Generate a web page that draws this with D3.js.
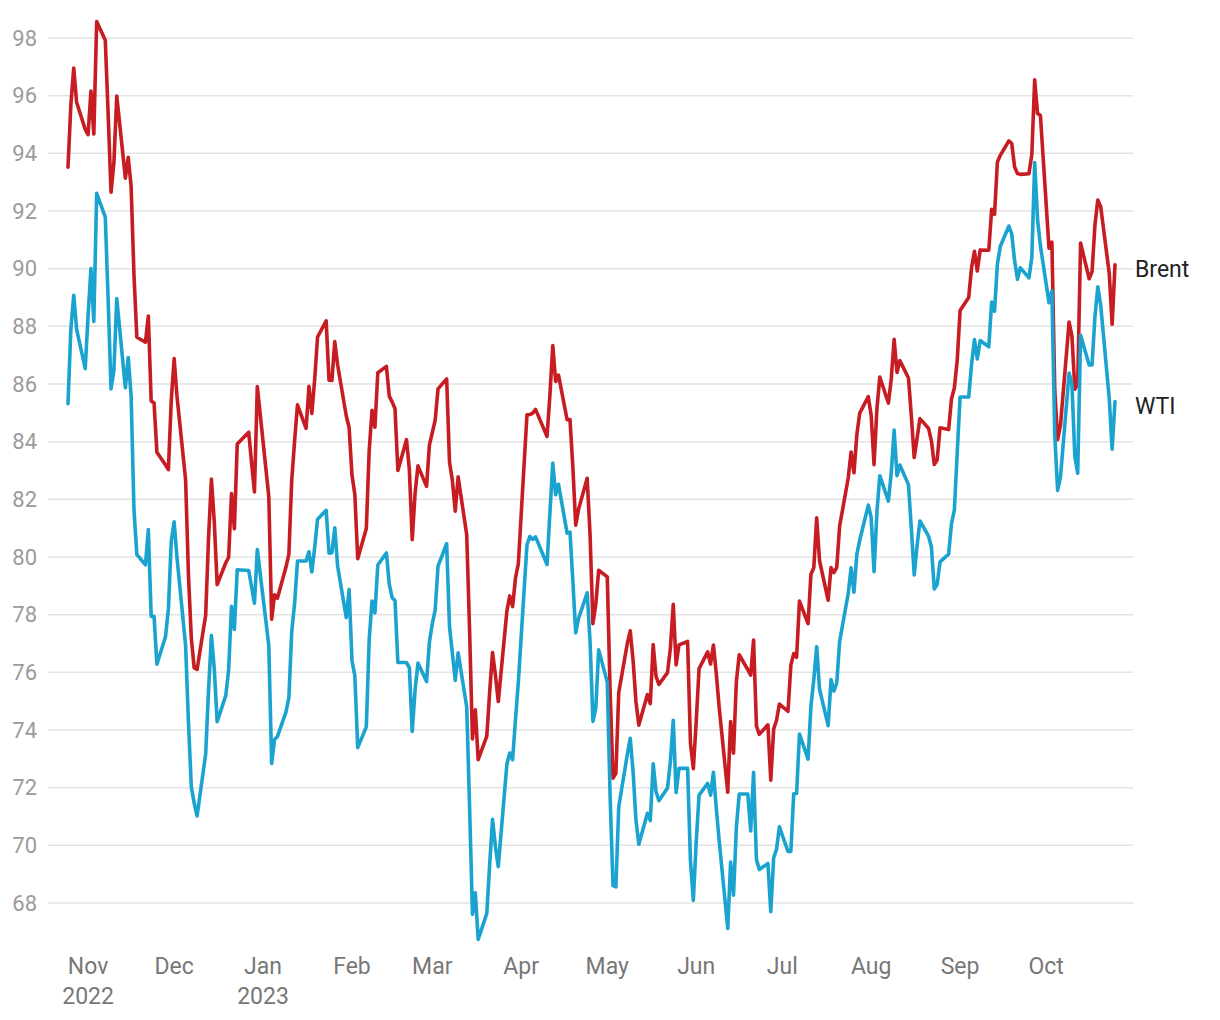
<!DOCTYPE html>
<html>
<head>
<meta charset="utf-8">
<script src="https://cdn.jsdelivr.net/npm/d3@7"></script>
<style>
  html, body { margin: 0; padding: 0; background: #ffffff; }
  svg { display: block; font-family: Roboto, "Noto Sans", sans-serif; }
</style>
</head>
<body>
<svg id="chart" width="1220" height="1020"></svg>
<script>
// ---- data ----
const dates = [
"2022-10-25","2022-10-26","2022-10-27","2022-10-28","2022-10-31",
"2022-11-01","2022-11-02","2022-11-03","2022-11-04","2022-11-07","2022-11-08","2022-11-09","2022-11-10","2022-11-11",
"2022-11-14","2022-11-15","2022-11-16","2022-11-17","2022-11-18","2022-11-21","2022-11-22","2022-11-23","2022-11-24","2022-11-25",
"2022-11-28","2022-11-29","2022-11-30","2022-12-01","2022-12-02","2022-12-05","2022-12-06","2022-12-07","2022-12-08","2022-12-09",
"2022-12-12","2022-12-13","2022-12-14","2022-12-15","2022-12-16","2022-12-19","2022-12-20","2022-12-21","2022-12-22","2022-12-23",
"2022-12-27","2022-12-28","2022-12-29","2022-12-30",
"2023-01-03","2023-01-04","2023-01-05","2023-01-06","2023-01-09","2023-01-10","2023-01-11","2023-01-12","2023-01-13",
"2023-01-16","2023-01-17","2023-01-18","2023-01-19","2023-01-20","2023-01-23","2023-01-24","2023-01-25","2023-01-26","2023-01-27",
"2023-01-30","2023-01-31","2023-02-01","2023-02-02","2023-02-03","2023-02-06","2023-02-07","2023-02-08","2023-02-09","2023-02-10",
"2023-02-13","2023-02-14","2023-02-15","2023-02-16","2023-02-17","2023-02-20","2023-02-21","2023-02-22","2023-02-23","2023-02-24",
"2023-02-27","2023-02-28","2023-03-01","2023-03-02","2023-03-03","2023-03-06","2023-03-07","2023-03-08","2023-03-09","2023-03-10",
"2023-03-13","2023-03-14","2023-03-15","2023-03-16","2023-03-17","2023-03-20","2023-03-21","2023-03-22","2023-03-23","2023-03-24",
"2023-03-27","2023-03-28","2023-03-29","2023-03-30","2023-03-31","2023-04-03","2023-04-04","2023-04-05","2023-04-06",
"2023-04-10","2023-04-11","2023-04-12","2023-04-13","2023-04-14","2023-04-17","2023-04-18","2023-04-19","2023-04-20","2023-04-21",
"2023-04-24","2023-04-25","2023-04-26","2023-04-27","2023-04-28","2023-05-01","2023-05-02","2023-05-03","2023-05-04","2023-05-05",
"2023-05-08","2023-05-09","2023-05-10","2023-05-11","2023-05-12","2023-05-15","2023-05-16","2023-05-17","2023-05-18","2023-05-19",
"2023-05-22","2023-05-23","2023-05-24","2023-05-25","2023-05-26","2023-05-29","2023-05-30","2023-05-31","2023-06-01","2023-06-02",
"2023-06-05","2023-06-06","2023-06-07","2023-06-08","2023-06-09","2023-06-12","2023-06-13","2023-06-14","2023-06-15","2023-06-16",
"2023-06-19","2023-06-20","2023-06-21","2023-06-22","2023-06-23","2023-06-26","2023-06-27","2023-06-28","2023-06-29","2023-06-30",
"2023-07-03","2023-07-04","2023-07-05","2023-07-06","2023-07-07","2023-07-10","2023-07-11","2023-07-12","2023-07-13","2023-07-14",
"2023-07-17","2023-07-18","2023-07-19","2023-07-20","2023-07-21","2023-07-24","2023-07-25","2023-07-26","2023-07-27","2023-07-28",
"2023-07-31","2023-08-01","2023-08-02","2023-08-03","2023-08-04","2023-08-07","2023-08-08","2023-08-09","2023-08-10","2023-08-11",
"2023-08-14","2023-08-15","2023-08-16","2023-08-17","2023-08-18","2023-08-21","2023-08-22","2023-08-23","2023-08-24","2023-08-25",
"2023-08-28","2023-08-29","2023-08-30","2023-08-31","2023-09-01","2023-09-04","2023-09-05","2023-09-06","2023-09-07","2023-09-08",
"2023-09-11","2023-09-12","2023-09-13","2023-09-14","2023-09-15","2023-09-18","2023-09-19","2023-09-20","2023-09-21","2023-09-22",
"2023-09-25","2023-09-26","2023-09-27","2023-09-28","2023-09-29","2023-10-02","2023-10-03","2023-10-04","2023-10-05","2023-10-06",
"2023-10-09","2023-10-10","2023-10-11","2023-10-12","2023-10-13","2023-10-16","2023-10-17","2023-10-18","2023-10-19","2023-10-20",
"2023-10-23","2023-10-24","2023-10-25"
];

const brent = [
93.52,95.69,96.96,95.77,94.83,
94.65,96.16,94.67,98.57,97.92,95.36,92.65,93.67,95.99,
93.14,93.86,92.86,89.78,87.62,87.45,88.36,85.41,85.34,83.63,
83.19,83.03,85.43,86.88,85.57,82.68,79.35,77.17,76.15,76.10,
77.99,80.68,82.70,81.21,79.04,79.80,79.99,82.20,80.98,83.92,
84.33,83.26,82.26,85.91,
82.10,77.84,78.69,78.57,79.65,80.10,82.67,84.03,85.28,
84.46,85.92,84.98,86.16,87.63,88.19,86.13,86.12,87.47,86.66,
84.90,84.49,82.84,82.17,79.94,80.99,83.69,85.09,84.50,86.39,
86.61,85.58,85.38,85.14,83.00,84.07,83.05,80.60,82.21,83.16,
82.45,83.89,84.31,84.75,85.83,86.18,83.29,82.66,81.59,82.78,
80.77,77.45,73.69,74.70,72.97,73.79,75.32,76.69,75.91,74.99,
78.12,78.65,78.28,79.27,79.77,84.93,84.94,84.99,85.12,
84.18,85.61,87.33,86.09,86.31,84.76,84.77,83.12,81.10,81.66,
82.73,80.77,77.69,78.37,79.54,79.31,75.32,72.33,72.50,75.30,
77.01,77.44,76.41,74.98,74.17,75.23,74.91,76.96,75.86,75.58,
75.99,76.84,78.36,76.26,76.95,77.07,73.54,72.66,74.28,76.13,
76.71,76.29,76.95,75.96,74.79,71.84,74.29,73.20,75.67,76.61,
76.09,75.90,77.12,74.14,73.85,74.18,72.26,74.03,74.34,74.90,
74.65,76.25,76.65,76.52,78.47,77.69,79.40,79.63,81.36,79.87,
78.50,79.63,79.46,79.64,81.07,82.74,83.64,82.92,84.24,84.99,
85.56,84.91,83.20,85.14,86.24,85.34,86.17,87.55,86.40,86.81,
86.21,84.89,83.45,84.12,84.80,84.46,84.03,83.21,83.36,84.48,
84.42,85.49,85.86,86.83,88.55,89.00,90.04,90.60,89.92,90.65,
90.64,92.06,91.88,93.70,93.93,94.43,94.34,93.53,93.30,93.27,
93.29,93.96,96.55,95.38,95.31,90.71,90.92,85.81,84.07,84.58,
88.15,87.65,85.82,86.00,90.89,89.65,89.90,91.50,92.38,92.16,
89.83,88.07,90.13
];

const wti = [
85.32,87.91,89.08,87.90,86.53,
88.37,90.00,88.17,92.61,91.79,88.91,85.83,86.47,88.96,
85.87,86.92,85.59,81.64,80.08,79.73,80.95,77.94,77.94,76.28,
77.24,78.20,80.55,81.22,79.98,76.93,74.25,72.01,71.46,71.02,
73.17,75.39,77.28,76.11,74.29,75.19,76.09,78.29,77.49,79.56,
79.53,78.96,78.40,80.26,
76.93,72.84,73.67,73.77,74.63,75.12,77.41,78.39,79.86,
79.86,80.18,79.48,80.33,81.31,81.62,80.13,80.15,81.01,79.68,
77.90,78.87,76.41,75.88,73.39,74.11,77.14,78.47,78.06,79.72,
80.14,79.06,78.59,78.49,76.34,76.34,76.16,73.95,75.39,76.32,
75.68,77.05,77.69,78.16,79.68,80.46,77.58,76.66,75.72,76.68,
74.80,71.33,67.61,68.35,66.74,67.64,69.33,70.90,69.96,69.26,
72.81,73.20,72.97,74.37,75.67,80.42,80.71,80.61,80.70,
79.74,81.53,83.26,82.16,82.52,80.83,80.86,79.16,77.37,77.87,
78.76,77.07,74.30,74.76,76.78,75.66,71.66,68.60,68.56,71.34,
73.16,73.71,72.56,70.87,70.04,71.11,70.86,72.83,71.86,71.55,
71.99,72.91,74.34,71.83,72.67,72.67,69.46,68.09,70.10,71.74,
72.15,71.74,72.53,71.29,70.17,67.12,69.42,68.27,70.62,71.78,
71.78,70.50,72.53,69.51,69.16,69.37,67.70,69.56,69.86,70.64,
69.79,69.79,71.79,71.80,73.86,72.99,74.83,75.75,76.89,75.42,
74.15,75.75,75.35,75.63,77.07,78.74,79.63,78.78,80.09,80.58,
81.80,81.37,79.49,81.55,82.82,81.94,82.92,84.40,82.82,83.19,
82.51,80.99,79.38,80.39,81.25,80.72,80.35,78.89,79.05,79.83,
80.10,81.16,81.63,83.63,85.55,85.55,86.69,87.54,86.87,87.51,
87.29,88.84,88.52,90.16,90.77,91.48,91.20,90.28,89.63,90.03,
89.68,90.39,93.68,91.71,90.79,88.82,89.23,84.22,82.31,82.79,
86.38,85.97,83.49,82.91,87.69,86.66,86.66,88.32,89.37,88.75,
85.49,83.74,85.39
];

const seriesNames = ["Brent", "WTI"];
const seriesColors = ["#c71c22", "#1ba3d0"];
const yTicks = [68,70,72,74,76,78,80,82,84,86,88,90,92,94,96,98];
const monthTicks = ["2022-11-01","2022-12-01","2023-01-01","2023-02-01","2023-03-01","2023-04-01",
                    "2023-05-01","2023-06-01","2023-07-01","2023-08-01","2023-09-01","2023-10-01"];
const monthLabels = [["Nov","2022"],["Dec"],["Jan","2023"],["Feb"],["Mar"],["Apr"],
                     ["May"],["Jun"],["Jul"],["Aug"],["Sep"],["Oct"]];

// ---- chart ----
const parse = d3.timeParse("%Y-%m-%d");
const dateObjs = dates.map(parse);
const svg = d3.select("#chart");

const x = d3.scaleTime()
  .domain([parse("2022-10-25"), parse("2023-10-25")])
  .range([68, 1115]);
const y = d3.scaleLinear().domain([68, 98]).range([903, 38]);

const gridLeft = 48, gridRight = 1133;

// gridlines + y labels
const yAxis = svg.append("g").attr("class", "y-axis");
yAxis.selectAll("line").data(yTicks).join("line")
  .attr("x1", gridLeft).attr("x2", gridRight)
  .attr("y1", d => y(d)).attr("y2", d => y(d))
  .attr("stroke", "#e3e3e3").attr("stroke-width", 1.5);
yAxis.selectAll("text").data(yTicks).join("text")
  .attr("x", 37).attr("y", d => y(d))
  .attr("text-anchor", "end").attr("dominant-baseline", "central")
  .attr("fill", "#9b9b9b").attr("font-size", 22)
  .text(d => d);

// x labels
const xAxis = svg.append("g").attr("class", "x-axis");
const xl = xAxis.selectAll("text").data(monthTicks).join("text")
  .attr("x", d => x(parse(d)))
  .attr("y", 966)
  .attr("text-anchor", "middle")
  .attr("fill", "#777777").attr("font-size", 23);
xl.each(function(d, i) {
  const t = d3.select(this);
  monthLabels[i].forEach((s, j) => {
    t.append("tspan").attr("x", x(parse(d))).attr("dy", j === 0 ? "0.35em" : "1.3em").text(s);
  });
});

// lines
const allSeries = [brent, wti];
const line = d3.line()
  .x((d, i) => x(dateObjs[i]))
  .y(d => y(d));

svg.append("g").selectAll("path").data(allSeries).join("path")
  .attr("d", d => line(d))
  .attr("fill", "none")
  .attr("stroke", (d, i) => seriesColors[i])
  .attr("stroke-width", 3.6)
  .attr("stroke-linejoin", "round")
  .attr("stroke-linecap", "round");

// end labels
svg.append("g").selectAll("text").data(allSeries).join("text")
  .attr("x", (d) => x(dateObjs[d.length - 1]) + 20)
  .attr("y", (d) => y(d[d.length - 1]) + 5)
  .attr("dominant-baseline", "central")
  .attr("fill", "#222222").attr("font-size", 23)
  .text((d, i) => seriesNames[i]);
</script>
</body>
</html>
